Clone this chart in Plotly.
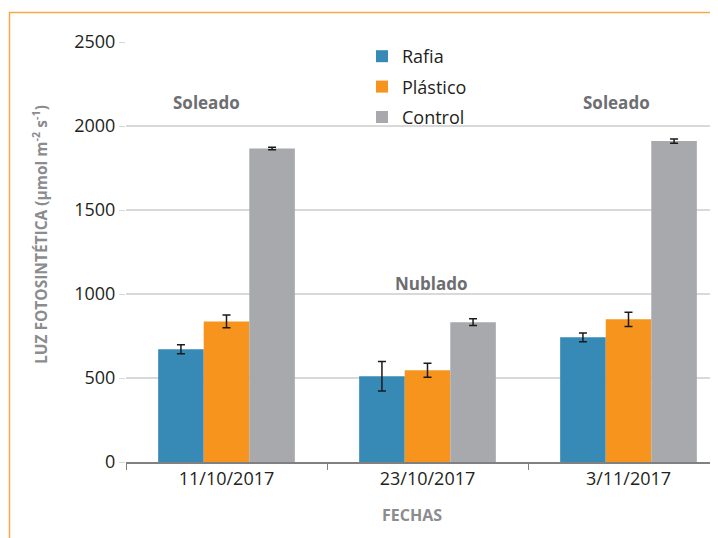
import plotly.graph_objects as go

categories = ["11/10/2017", "23/10/2017", "3/11/2017"]
rafia = [671, 510, 742]
rafia_err = [27, 88, 26]
plastico = [837, 546, 849]
plastico_err = [38, 42, 43]
control = [1866, 832, 1910]
control_err = [8, 20, 12]

colors = {"Rafia": "#378ab6", "Plástico": "#f7941d", "Control": "#a7a9ac"}

fig = go.Figure()
for i, (name, vals, errs) in enumerate([("Rafia", rafia, rafia_err),
                                        ("Plástico", plastico, plastico_err),
                                        ("Control", control, control_err)]):
    fig.add_trace(go.Bar(
        x=categories, y=vals, name=name, marker_color=colors[name],
        marker_line_width=0, legendgroup=name,
        error_y=dict(type="data", array=errs, color="#1a1a1a", thickness=1.5, width=4),
    ))

# page body has an 8px margin; work in window coordinates and offset
OFF = 8
W, H = 718 - OFF, 538 - OFF
L, T, B = 126 - OFF, 42 - OFF, 538 - 462
pw, ph = W - L, H - T - B


def px(x):
    return (x - OFF - L) / pw


def py(y):
    return (H - B - (y - OFF)) / ph


fig.update_layout(
    width=W, height=H,
    margin=dict(l=L, r=0, t=T, b=B),
    paper_bgcolor="white", plot_bgcolor="white",
    barmode="group", bargap=0.32, bargroupgap=0,
    font=dict(family="Open Sans", color="#231f20"),
    legend=dict(x=px(362), y=py(38), xanchor="left", yanchor="top",
                font=dict(size=18, color="#231f20"), tracegroupgap=4,
                itemwidth=30, bgcolor="rgba(0,0,0,0)"),
    xaxis=dict(range=[-0.5, -0.5 + pw / 201.0], tickson="boundaries", ticks="outside",
               ticklen=6, tickcolor="#808080", showline=True, linecolor="#808080",
               linewidth=1.5, tickfont=dict(size=18, color="#231f20"), showgrid=False),
    yaxis=dict(range=[0, 2500], dtick=500, showgrid=True, gridcolor="#d9d9d9",
               gridwidth=1.5, ticks="outside", ticklen=6, tickcolor="#d9d9d9",
               showline=False, zeroline=False, tickfont=dict(size=18, color="#231f20")),
    annotations=[
        dict(text="<b>LUZ FOTOSINTÉTICA (µmol m<sup>-2</sup> s<sup>-1</sup>)</b>", textangle=-90,
             xref="paper", yref="paper", x=px(40), y=py(235), showarrow=False,
             font=dict(size=15.5, color="#8a8c8e", family="Open Sans"), xanchor="center", yanchor="middle"),
        dict(text="<b>FECHAS</b>", xref="paper", yref="paper", x=px(412), y=py(515),
             showarrow=False, xanchor="center", yanchor="middle",
             font=dict(size=16, color="#8a8c8e")),
        dict(text="<b>Soleado</b>", xref="x", yref="y", x=-0.1, y=2141, showarrow=False,
             font=dict(size=17, color="#6d6e71")),
        dict(text="<b>Nublado</b>", xref="x", yref="y", x=1.02, y=1063, showarrow=False,
             font=dict(size=17, color="#6d6e71")),
        dict(text="<b>Soleado</b>", xref="x", yref="y", x=1.94, y=2141, showarrow=False,
             font=dict(size=17, color="#6d6e71")),
    ],
    shapes=[
        dict(type="path", xref="paper", yref="paper",
             path=f"M {px(9.5)} {py(560)} L {px(9.5)} {py(12.5)} L {px(740)} {py(12.5)}",
             line=dict(color="#f9a847", width=1.5), layer="above"),
    ],
)

fig.write_html("out.html")
